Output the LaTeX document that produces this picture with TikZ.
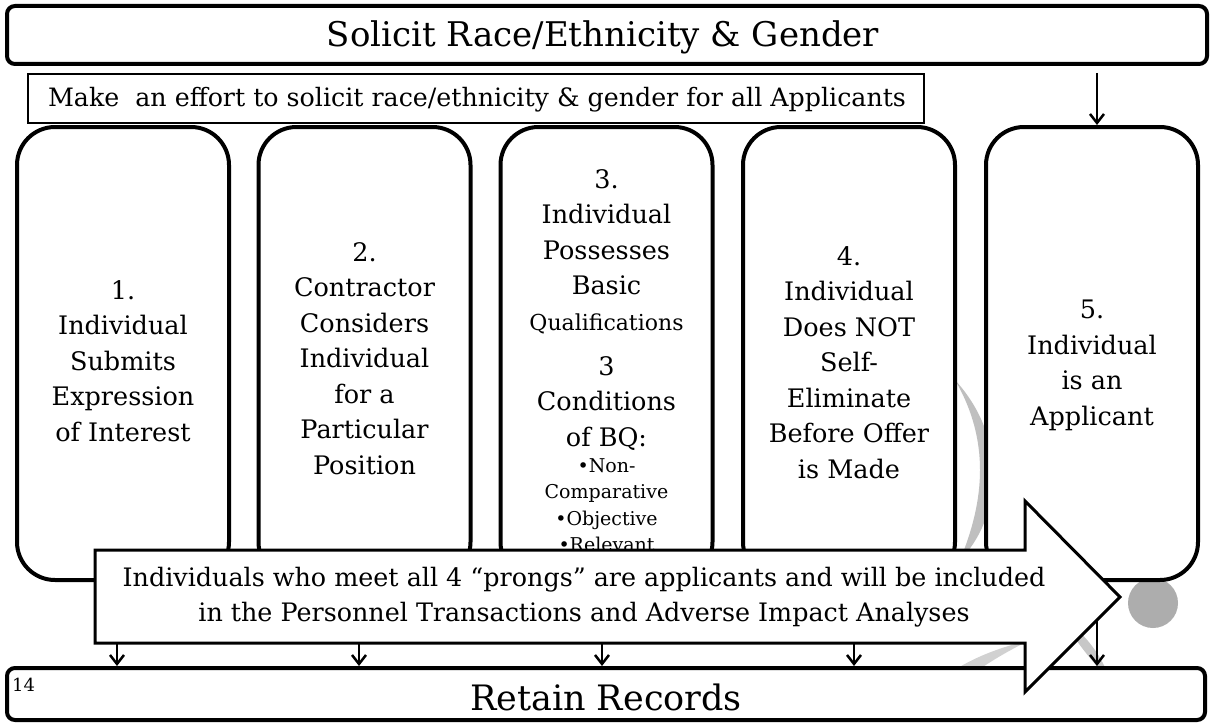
\documentclass[tikz,border=0pt]{standalone}
\usepackage{fontspec}
\setmainfont{DejaVu Serif}
\usetikzlibrary{arrows.meta}
\tikzset{
  px/.style={x=1pt,y=-1pt},
  topbox/.style={draw,line width=4pt,rounded corners=8pt,fill=white,inner sep=0pt},
  makebox/.style={draw,line width=2.5pt,fill=white,inner sep=0pt,minimum width=896pt,minimum height=49pt},
  stepbox/.style={draw,line width=4pt,rounded corners=38pt,fill=white,inner sep=0pt,minimum width=212pt,minimum height=453pt},
  boxtxt/.style={align=center,inner sep=0pt,font=\fontsize{25.5}{35.5}\selectfont},
  arr/.style={line width=2.5pt,-{Straight Barb[length=9pt,width=14pt,line width=2.5pt]}},
  deco/.style={fill=black!30,draw=none},
}
\begin{document}
\begin{tikzpicture}[px]
\useasboundingbox (0,0) rectangle (1210,725);
\fill[white] (0,0) rectangle (1210,725);
% background decoration
\fill[deco,fill=black!25] (955,380) .. controls (1010,440) and (1000,520) .. (960,560) .. controls (985,500) and (990,440) .. (955,380) -- cycle;
\fill[deco,fill=black!18] (920,700) .. controls (950,665) and (990,650) .. (1030,640) .. controls (990,660) and (960,680) .. (940,705) -- cycle;
\fill[deco,fill=black!22] (1060,615) .. controls (1080,630) and (1100,650) .. (1110,680) .. controls (1090,660) and (1075,640) .. (1060,615) -- cycle;
\fill[deco,fill=black!32] (1153,603) circle[radius=25];
% top box
\node[topbox,minimum width=1200pt,minimum height=58pt] (top) at (607,35) {};
\node[inner sep=0pt,font=\fontsize{34}{38}\selectfont] (toptxt) at (603,37) {Solicit Race/Ethnicity \& Gender};
% make box
\node[makebox] (make) at (476,98.5) {};
\node[inner sep=0pt,font=\fontsize{25.3}{30}\selectfont] (maketxt) at (477,100) {Make\ \ an effort to solicit race/ethnicity \& gender for all Applicants};
% step boxes
\node[stepbox] (b1) at (123,353.5) {};
\node[stepbox] (b2) at (364.5,353.5) {};
\node[stepbox] (b3) at (606.5,353.5) {};
\node[stepbox] (b4) at (849,353.5) {};
\node[stepbox] (b5) at (1092,353.5) {};
\node[boxtxt,anchor=north] (t1) at (123,280) {1.\\Individual\\Submits\\Expression\\of Interest};
\node[boxtxt,anchor=north] (t2) at (364.5,242) {2.\\Contractor\\Considers\\Individual\\for a\\Particular\\Position};
\node[boxtxt,anchor=north] (t3a) at (606.5,169) {3.\\Individual\\Possesses\\Basic\\{\fontsize{22}{26}\selectfont Qualifications}};
\node[boxtxt,anchor=north] (t3b) at (606.5,356) {3\\Conditions\\of BQ:};
\node[align=center,inner sep=0pt,anchor=north,font=\fontsize{19}{26.5}\selectfont] (t3c) at (606.5,458) {•Non-\\Comparative\\•Objective\\•Relevant};
\node[boxtxt,anchor=north] (t4) at (849,246) {4.\\Individual\\Does NOT\\Self-\\Eliminate\\Before Offer\\is Made};
\node[boxtxt,anchor=north] (t5) at (1092,300) {5.\\Individual\\is an\\Applicant};
% retain box
\node[topbox,minimum width=1198pt,minimum height=52pt] (rr) at (606,694) {};
\node[inner sep=0pt,font=\fontsize{35}{38}\selectfont] (rrtxt) at (606,697) {Retain Records};
\node[inner sep=0pt,anchor=north west,font=\fontsize{18}{20}\selectfont] (pg) at (12,678) {14};
% connectors
\draw[arr] (1097,73) coordinate (a0) -- (a0 |- b5.north);
\draw[arr] ([xshift=-6pt]b1.south) -- ([xshift=-6pt]b1.south |- rr.north);
\draw[arr] ([xshift=-5.5pt]b2.south) -- ([xshift=-5.5pt]b2.south |- rr.north);
\draw[arr] ([xshift=-4.5pt]b3.south) -- ([xshift=-4.5pt]b3.south |- rr.north);
\draw[arr] ([xshift=5pt]b4.south) -- ([xshift=5pt]b4.south |- rr.north);
\draw[arr] ([xshift=5pt]b5.south) -- ([xshift=5pt]b5.south |- rr.north);
% big block arrow
\draw[line width=3pt,fill=white,line join=miter] (95,550) -- (1025,550) -- (1025,501) -- (1120,597) -- (1025,692) -- (1025,643) -- (95,643) -- cycle;
\node[align=center,inner sep=0pt,font=\fontsize{25.4}{35}\selectfont] (arrtxt) at (584,597) {Individuals who meet all 4 “prongs” are applicants and will be included\\in the Personnel Transactions and Adverse Impact Analyses};
\end{tikzpicture}
\end{document}
